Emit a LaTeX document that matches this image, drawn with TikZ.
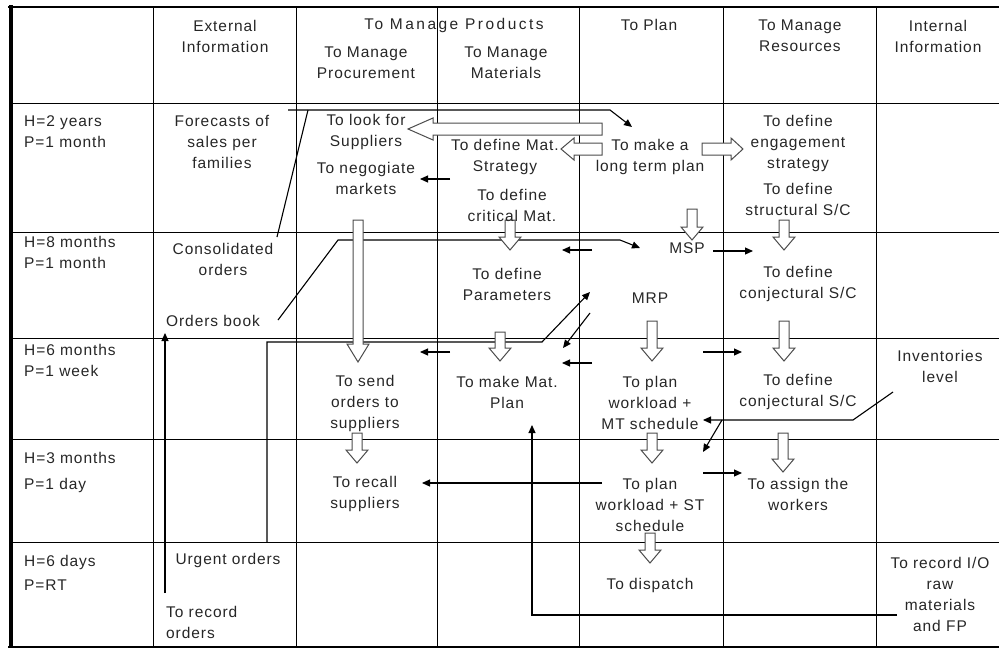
\documentclass[tikz,border=0pt]{standalone}
\usepackage{fontspec}
\setmainfont{Liberation Sans}[LetterSpace=6]
\usetikzlibrary{arrows.meta}
\newcommand\HollowDown[4]{% x, ytop, ytip, head length
  \draw[hollow] (#1-5,#2) -- (#1+5,#2) -- (#1+5,#3-#4) -- (#1+11,#3-#4) -- (#1,#3)
    -- (#1-11,#3-#4) -- (#1-5,#3-#4) -- cycle;}
\newcommand\HollowH[4]{% xtail, y, xheadbase, xtip
  \draw[hollow] (#1,#2-6) -- (#3,#2-6) -- (#3,#2-11) -- (#4,#2) -- (#3,#2+11)
    -- (#3,#2+6) -- (#1,#2+6) -- cycle;}
\begin{document}
\begin{tikzpicture}[x=1pt,y=-1pt,
  txt/.style={inner sep=0pt,align=center,font=\fontsize{15.5}{21}\selectfont,text=black!85},
  lbl/.style={txt,align=left,anchor=west},
  grid/.style={draw=black,line width=1pt},
  ln/.style={draw=black,line width=1.1pt},
  arr/.style={ln,-{Triangle[length=8pt,width=7pt]}},
  hollow/.style={draw=black!70,line width=1pt,fill=white}]
\useasboundingbox (0,0) rectangle (999,648);
% ---------- frame and grid ----------
\foreach \gx in {153,296,437,579,723,876} \draw[grid] (\gx,7) -- (\gx,647);
\foreach \gy in {103,232,338,439,542} \draw[grid] (10,\gy) -- (999,\gy);
\draw[draw=black,line width=2.5pt] (8,7) -- (999,7);
\draw[draw=black,line width=2pt] (8,647) -- (999,647);
\draw[draw=black,line width=4pt] (10.5,5) -- (10.5,648);
% ---------- headers ----------
\node[txt] (hExt) at (225,36) {External\\Information};
\node[txt] (hProd) at (454,25) {\addfontfeature{LetterSpace=16}To Manage Products};
\node[txt] (hProc) at (366,63) {To Manage\\Procurement};
\node[txt] (hMat) at (506,63) {To Manage\\Materials};
\node[txt] (hPlan) at (649,25) {To Plan};
\node[txt] (hRes) at (800,36) {To Manage\\Resources};
\node[txt] (hInt) at (938,36) {Internal\\Information};
% ---------- row labels ----------
\node[lbl] (r1) at (24,132) {H=2 years\\P=1 month};
\node[lbl] (r2) at (24,252) {H=8 months\\P=1 month};
\node[lbl] (r3) at (24,360) {H=6 months\\P=1 week};
\node[lbl] (r4) at (24,472) {H=3 months\\[5pt]P=1 day};
\node[lbl] (r5) at (24,573) {H=6 days\\[3pt]P=RT};
% ---------- thin connectors ----------
\coordinate (fcA) at (288,110); \coordinate (fcB) at (610,110); \coordinate (fcT) at (632,127);
\coordinate (coA) at (277,237); \coordinate (coB) at (308,110);
\draw[arr] (fcA) -- (fcB) -- (fcT);
\draw[ln] (coA) -- (coB);
\coordinate (obA) at (278,320); \coordinate (obB) at (338,240); \coordinate (obC) at (620,240); \coordinate (obT) at (640,248);
\draw[arr] (obA) -- (obB) -- (obC) -- (obT);
\coordinate (uoA) at (267,542); \coordinate (uoB) at (267,342); \coordinate (uoC) at (542,342); \coordinate (uoT) at (590,292);
\draw[arr] (uoA) -- (uoB) -- (uoC) -- (uoT);
\coordinate (roA) at (165,593); \coordinate (roT) at (165,333);
\draw[arr] (roA) -- (roT);
\draw[arr] (450,179) coordinate (n1s) -- (420,179) coordinate (n1t);
\draw[arr] (592,250) coordinate (n2s) -- (562,250) coordinate (n2t);
\draw[arr] (590,313) coordinate (n3s) -- (563,348) coordinate (n3t);
\draw[arr] (592,363) coordinate (n4s) -- (562,363) coordinate (n4t);
\draw[arr] (450,352) coordinate (n5s) -- (420,352) coordinate (n5t);
\draw[arr] (703,352) coordinate (n6s) -- (742,352) coordinate (n6t);
\draw[arr] (713,251) coordinate (n7s) -- (753,251) coordinate (n7t);
\coordinate (ivA) at (893,392); \coordinate (ivB) at (853,420); \coordinate (ivT) at (703,420);
\coordinate (ivC) at (722,420); \coordinate (ivU) at (703,452);
\draw[arr] (ivA) -- (ivB) -- (ivT);
\draw[arr] (ivC) -- (ivU);
\draw[arr] (602,483) coordinate (n8s) -- (422,483) coordinate (n8t);
\draw[arr] (703,473) coordinate (n9s) -- (742,473) coordinate (n9t);
\coordinate (ioA) at (897,615); \coordinate (ioB) at (532,615); \coordinate (ioT) at (532,425);
\draw[arr] (ioA) -- (ioB) -- (ioT);
% ---------- hollow arrows ----------
\HollowH{602}{129}{433}{408}
\HollowH{602}{149}{574}{561}
\HollowH{702}{149}{731}{743}
\HollowDown{692}{209}{240}{13}
\HollowDown{784}{220}{250}{13}
\HollowDown{510}{220}{250}{13}
\HollowDown{358}{220}{362}{18}
\HollowDown{500}{332}{361}{13}
\HollowDown{652}{321}{361}{13}
\HollowDown{784}{321}{361}{13}
\HollowDown{357}{433}{463}{13}
\HollowDown{652}{433}{463}{13}
\HollowDown{783}{433}{472}{13}
\HollowDown{650}{533}{563}{13}
% ---------- row 1 ----------
\node[txt] (forecast) at (222,142) {Forecasts of\\sales per\\families};
\node[txt] (lookfor) at (366,132) {To look for\\Suppliers};
\node[txt] (negog) at (366,178) {To negogiate\\markets};
\node[txt] (matstrat) at (505,157) {To define Mat.\\Strategy};
\node[txt] (critmat) at (512,205) {To define\\critical Mat.};
\node[txt] (ltplan) at (650,157) {To make a\\long term plan};
\node[txt] (engage) at (798,143) {To define\\engagement\\strategy};
\node[txt] (struct) at (798,199) {To define\\structural S/C};
% ---------- row 2 ----------
\node[txt] (consol) at (223,259) {Consolidated\\orders};
\node[txt] (ordbook) at (213,321) {Orders book};
\node[txt] (params) at (507,284) {To define\\Parameters};
\node[txt] (msp) at (687,248) {MSP};
\node[txt] (mrp) at (650,298) {MRP};
\node[txt] (conjA) at (798,284) {To define\\conjectural S/C};
% ---------- row 3 ----------
\node[txt] (sendord) at (365,403) {To send\\orders to\\suppliers};
\node[txt] (matplan) at (507,392) {To make Mat.\\Plan};
\node[txt] (mtsched) at (650,403) {To plan\\workload +\\MT schedule};
\node[txt] (conjB) at (798,392) {To define\\conjectural S/C};
\node[txt] (invlev) at (940,366) {Inventories\\level};
% ---------- row 4 ----------
\node[txt] (recall) at (365,494) {To recall\\suppliers};
\node[txt] (stsched) at (650,505) {To plan\\workload + ST\\schedule};
\node[txt] (assign) at (798,494) {To assign the\\workers};
% ---------- row 5 ----------
\node[txt] (urgent) at (228,560) {Urgent orders};
\node[lbl] (record) at (166,622) {To record\\orders};
\node[txt] (dispatch) at (650,585) {To dispatch};
\node[txt] (recio) at (940,594) {To record I/O\\raw\\materials\\and FP};
\end{tikzpicture}
\end{document}
